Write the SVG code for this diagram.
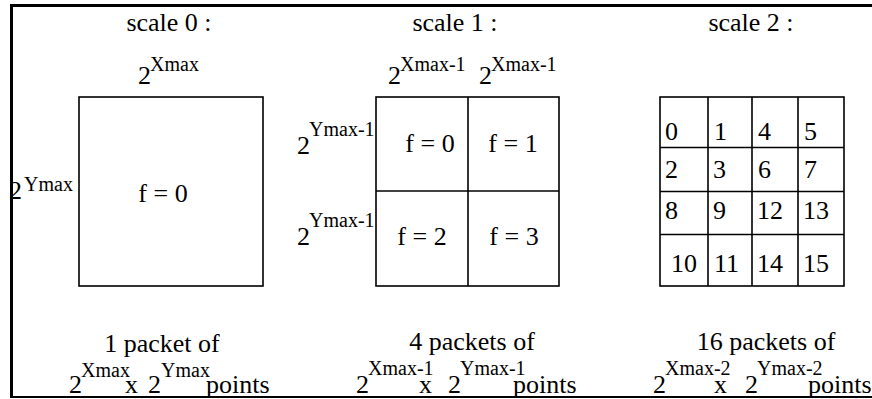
<svg xmlns="http://www.w3.org/2000/svg" width="872" height="399" viewBox="0 0 872 399">
<style>
text{font-family:"Liberation Serif","Times New Roman",serif;fill:#000}
.b{font-size:26px}
.s{font-size:20px}
.box{fill:none;stroke:#000;stroke-width:1.6}
.frame{fill:none;stroke:#000}
</style>
<rect width="872" height="399" fill="#fff"/>
<g id="frame">
<line class="frame" x1="10" y1="5.5" x2="872" y2="5.5" stroke-width="3"/>
<line class="frame" x1="11.5" y1="4" x2="11.5" y2="398" stroke-width="3"/>
<line class="frame" x1="10" y1="397" x2="872" y2="397" stroke-width="2"/>
</g>
<g id="scale0">
<text class="b" x="169" y="31" text-anchor="middle">scale 0 :</text>
<text class="b" x="138" y="84">2</text><text class="s" x="150" y="71">Xmax</text>
<text class="b" x="9" y="199">2</text><text class="s" x="24" y="191">Ymax</text>
<rect class="box" x="79" y="97" width="184" height="189"/>
<text class="b" x="163" y="202" text-anchor="middle">f = 0</text>
<text class="b" x="162" y="352" text-anchor="middle">1 packet of</text>
<text class="b" x="69" y="393">2</text><text class="s" x="81" y="377">Xmax</text>
<text class="b" x="125" y="393">x</text>
<text class="b" x="148" y="393">2</text><text class="s" x="161" y="377">Ymax</text>
<text class="b" x="206" y="393">points</text>
</g>
<g id="scale1">
<text class="b" x="455" y="31" text-anchor="middle">scale 1 :</text>
<text class="b" x="388" y="84">2</text><text class="s" x="400" y="71">Xmax-1</text>
<text class="b" x="479" y="84">2</text><text class="s" x="491" y="71">Xmax-1</text>
<text class="b" x="297" y="154">2</text><text class="s" x="309" y="136">Ymax-1</text>
<text class="b" x="297" y="245">2</text><text class="s" x="309" y="227">Ymax-1</text>
<rect class="box" x="376" y="97" width="183" height="189"/>
<line class="box" x1="468" y1="97" x2="468" y2="286"/>
<line class="box" x1="376" y1="191" x2="559" y2="191"/>
<text class="b" x="430" y="152" text-anchor="middle">f = 0</text>
<text class="b" x="513" y="152" text-anchor="middle">f = 1</text>
<text class="b" x="422" y="245" text-anchor="middle">f = 2</text>
<text class="b" x="514" y="245" text-anchor="middle">f = 3</text>
<text class="b" x="472" y="350" text-anchor="middle">4 packets of</text>
<text class="b" x="356" y="393">2</text><text class="s" x="368" y="375">Xmax-1</text>
<text class="b" x="419" y="393">x</text>
<text class="b" x="448" y="393">2</text><text class="s" x="460" y="375">Ymax-1</text>
<text class="b" x="513" y="393">points</text>
</g>
<g id="scale2">
<text class="b" x="751" y="31" text-anchor="middle">scale 2 :</text>
<rect class="box" x="660" y="97" width="184" height="189"/>
<line class="box" x1="708" y1="97" x2="708" y2="286"/>
<line class="box" x1="752" y1="97" x2="752" y2="286"/>
<line class="box" x1="798" y1="97" x2="798" y2="286"/>
<line class="box" x1="660" y1="147.5" x2="844" y2="147.5"/>
<line class="box" x1="660" y1="191.5" x2="844" y2="191.5"/>
<line class="box" x1="660" y1="234.5" x2="844" y2="234.5"/>
<text class="b" x="665" y="140">0</text><text class="b" x="714" y="140">1</text><text class="b" x="758" y="140">4</text><text class="b" x="804" y="140">5</text>
<text class="b" x="665" y="178">2</text><text class="b" x="713" y="178">3</text><text class="b" x="758" y="178">6</text><text class="b" x="804" y="178">7</text>
<text class="b" x="665" y="219">8</text><text class="b" x="713" y="219">9</text><text class="b" x="757" y="219">12</text><text class="b" x="803" y="219">13</text>
<text class="b" x="671" y="272">10</text><text class="b" x="714" y="272">11</text><text class="b" x="757" y="272">14</text><text class="b" x="803" y="272">15</text>
<text class="b" x="766" y="350" text-anchor="middle">16 packets of</text>
<text class="b" x="653" y="393">2</text><text class="s" x="665" y="375">Xmax-2</text>
<text class="b" x="714" y="393">x</text>
<text class="b" x="745" y="393">2</text><text class="s" x="757" y="375">Ymax-2</text>
<text class="b" x="808" y="393">points</text>
</g>
</svg>
